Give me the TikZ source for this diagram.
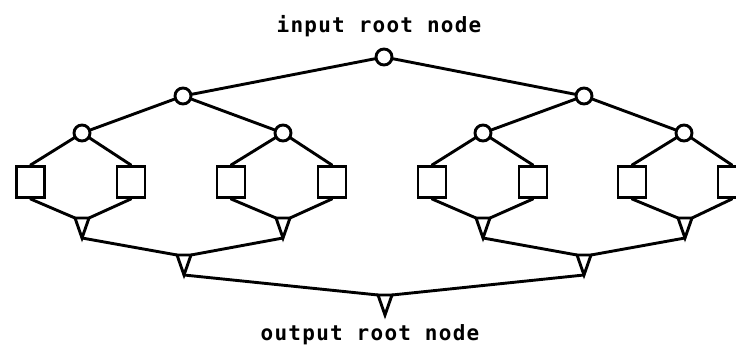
\documentclass[tikz,border=0pt]{standalone}
\usepackage{fontspec}
\newfontfamily\plotfont[LetterSpace=6]{DejaVu Sans Mono Bold}
\newcommand\mktri[3]{%
  \coordinate (#1l) at ({#2-7},#3);
  \coordinate (#1r) at ({#2+7},#3);
  \coordinate (#1a) at (#2,{#3+20});
  \draw[trishape] (#1l) -- (#1r) -- (#1a) -- cycle;}
\begin{document}
\begin{tikzpicture}[x=1pt,y=-1pt,line width=2.9pt,
  cnode/.style={circle,draw,minimum size=16pt,inner sep=0pt},
  leaf/.style={rectangle,draw,minimum width=28pt,minimum height=31pt,inner sep=0pt},
  trishape/.style={draw,line join=miter},
  link/.style={line cap=round},
  lbl/.style={anchor=base,inner sep=0pt,font=\plotfont\fontsize{21}{25}\selectfont}]
\useasboundingbox (0,0) rectangle (736,345);
% labels
\node[lbl] (tin) at (379,33) {input root node};
\node[lbl] (tout) at (370,340) {output root node};
% fork (circle) nodes
\node[cnode] (r) at (384,57) {};
\node[cnode] (a) at (183,96) {};
\node[cnode] (b) at (584,96) {};
\node[cnode] (c1) at (82,133) {};
\node[cnode] (c2) at (283,133) {};
\node[cnode] (c3) at (483,133) {};
\node[cnode] (c4) at (684,133) {};
% leaves
\node[leaf] (s1) at (30.5,182) {};
\node[leaf] (s2) at (131,182) {};
\node[leaf] (s3) at (231,182) {};
\node[leaf] (s4) at (332,182) {};
\node[leaf] (s5) at (432,182) {};
\node[leaf] (s6) at (533,182) {};
\node[leaf] (s7) at (632,182) {};
\node[leaf] (s8) at (732,182) {};
% join (triangle) nodes
\mktri{u1}{82}{218}
\mktri{u2}{283}{218}
\mktri{u3}{483}{218}
\mktri{u4}{685}{218}
\mktri{v1}{184}{255}
\mktri{v2}{584}{255}
\mktri{w}{385}{295}
% connectors: forks
\draw[link] (r) -- (a);
\draw[link] (r) -- (b);
\draw[link] (a) -- (c1);
\draw[link] (a) -- (c2);
\draw[link] (b) -- (c3);
\draw[link] (b) -- (c4);
\draw[link] (c1) -- (s1.north);
\draw[link] (c1) -- (s2.north);
\draw[link] (c2) -- (s3.north);
\draw[link] (c2) -- (s4.north);
\draw[link] (c3) -- (s5.north);
\draw[link] (c3) -- (s6.north);
\draw[link] (c4) -- (s7.north);
\draw[link] (c4) -- (s8.north);
% connectors: joins
\draw[link] (s1.south) -- (u1l);
\draw[link] (s2.south) -- (u1r);
\draw[link] (s3.south) -- (u2l);
\draw[link] (s4.south) -- (u2r);
\draw[link] (s5.south) -- (u3l);
\draw[link] (s6.south) -- (u3r);
\draw[link] (s7.south) -- (u4l);
\draw[link] (s8.south) -- (u4r);
\draw[link] (u1a) -- (v1l);
\draw[link] (u2a) -- (v1r);
\draw[link] (u3a) -- (v2l);
\draw[link] (u4a) -- (v2r);
\draw[link] (v1a) -- (wl);
\draw[link] (v2a) -- (wr);
\end{tikzpicture}
\end{document}
